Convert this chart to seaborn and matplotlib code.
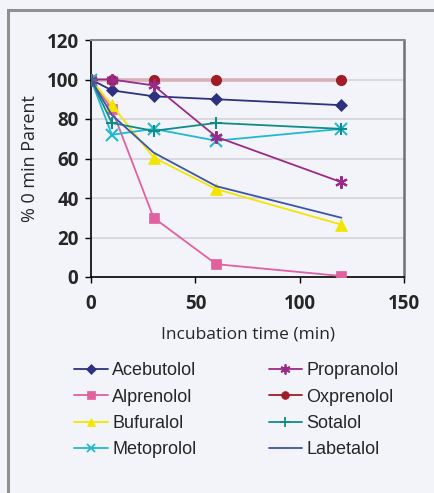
import matplotlib
matplotlib.use("Agg")
import matplotlib.pyplot as plt
import seaborn as sns
import pandas as pd
from matplotlib.patches import Rectangle
from matplotlib.lines import Line2D

times = [0, 10, 30, 60, 120]
acebutolol = [100, 94.5, 91.5, 90, 87]
alprenolol = [100, 85, 30, 6.5, 0.5]
bufuralol = [100, 87, 60.5, 44.5, 26.5]
metoprolol = [100, 72, 75, 69, 75]
propranolol = [100, 100, 97, 71, 48]
oxprenolol = [100, 100, 100, 100, 100]
sotalol = [100, 78, 74, 78, 75]
labetalol = [100, 82, 63, 46, 30]

names = ["Acebutolol", "Alprenolol", "Bufuralol", "Metoprolol",
         "Propranolol", "Oxprenolol", "Sotalol", "Labetalol"]
series = [acebutolol, alprenolol, bufuralol, metoprolol,
          propranolol, oxprenolol, sotalol, labetalol]
colors = ["#2e3180", "#e060a0", "#f2e600", "#20b8d2",
          "#9a2a88", "#a01c26", "#108c88", "#3b55a8"]
markers = ["D", "s", "^", "x", (6, 2, 0), "o", "+", None]
msizes = [6, 6.5, 8, 8, 9, 7, 9, 0]

rows = []
for n, s in zip(names, series):
    for t, v in zip(times, s):
        rows.append({"drug": n, "time": t, "value": v})
df = pd.DataFrame(rows)

sns.set_theme(style="white")
plt.rcParams["font.family"] = ["Open Sans", "DejaVu Sans"]
bg = "#f3f4f9"
fig = plt.figure(figsize=(4.34, 4.93), dpi=100, facecolor=bg)
ax = fig.add_axes([91/434, 1-277/493, (404-91)/434, (277-40)/493])
ax.set_facecolor(bg)

# outer frame
fig.patches.append(Rectangle((8/434, -0.1), 1.2, 1 - 10/493 + 0.1,
                             transform=fig.transFigure, fill=False,
                             edgecolor="#909090", linewidth=2.2, zorder=0))

for y in [20, 40, 60, 80, 100]:
    ax.axhline(y, color="#d4d4d8", lw=1.2, zorder=0)

draw_order = [5, 0, 1, 2, 3, 4, 6, 7]
for i in draw_order:
    n = names[i]
    sub = df[df.drug == n]
    if n == "Oxprenolol":
        sns.lineplot(data=sub, x="time", y="value", ax=ax, color="#d8b0b6",
                     lw=2.6, legend=False, zorder=1)
        ax.plot(sub.time, sub.value, linestyle="none", marker="o",
                color=colors[i], ms=msizes[i], zorder=2)
        continue
    mk = markers[i]
    kw = {}
    if mk is not None:
        kw = dict(marker=mk, markersize=msizes[i], markeredgecolor=colors[i],
                  markeredgewidth=1.5 if mk in ["x", "+"] or isinstance(mk, tuple) else 0.5)
    sns.lineplot(data=sub, x="time", y="value", ax=ax, color=colors[i],
                 lw=1.3, legend=False, zorder=3, **kw)

handles = []
for i, n in enumerate(names):
    mk = markers[i]
    h = Line2D([0], [0], color=colors[i], lw=1.3,
               marker=mk if mk is not None else None,
               markersize=msizes[i] * 0.8, markeredgecolor=colors[i],
               markeredgewidth=1.3 if (mk in ["x", "+"] or isinstance(mk, tuple)) else 0.5)
    handles.append(h)

ax.set_xlim(0, 150)
ax.set_ylim(0, 120)
ax.set_xticks([0, 50, 100, 150])
ax.set_yticks([0, 20, 40, 60, 80, 100, 120])
ax.tick_params(axis="both", direction="out", length=4, width=1, color="black",
               labelsize=13.5, pad=5, bottom=True, left=True)
for lab in ax.get_xticklabels() + ax.get_yticklabels():
    lab.set_fontweight("bold")
ax.tick_params(axis="x", pad=8)
for side in ["left", "bottom"]:
    ax.spines[side].set_color("black")
    ax.spines[side].set_linewidth(1.2)
ax.spines["right"].set_color("#707070")
ax.spines["right"].set_linewidth(1.8)
ax.spines["top"].set_color("#8a8a8a")
ax.spines["top"].set_linewidth(1.5)

ax.set_xlabel("Incubation time (min)", fontsize=12.5, labelpad=9)
ax.set_ylabel("% 0 min Parent", fontsize=13, labelpad=5)

leg = fig.legend(handles, names, ncol=2, frameon=False,
                 loc="upper left", bbox_to_anchor=(58/434, 1-346/493),
                 prop={"family": "Liberation Sans", "size": 13},
                 handlelength=1.85, columnspacing=4.0, labelspacing=0.52,
                 handletextpad=0.25)

fig.savefig("out.png", dpi=100, facecolor=bg)
